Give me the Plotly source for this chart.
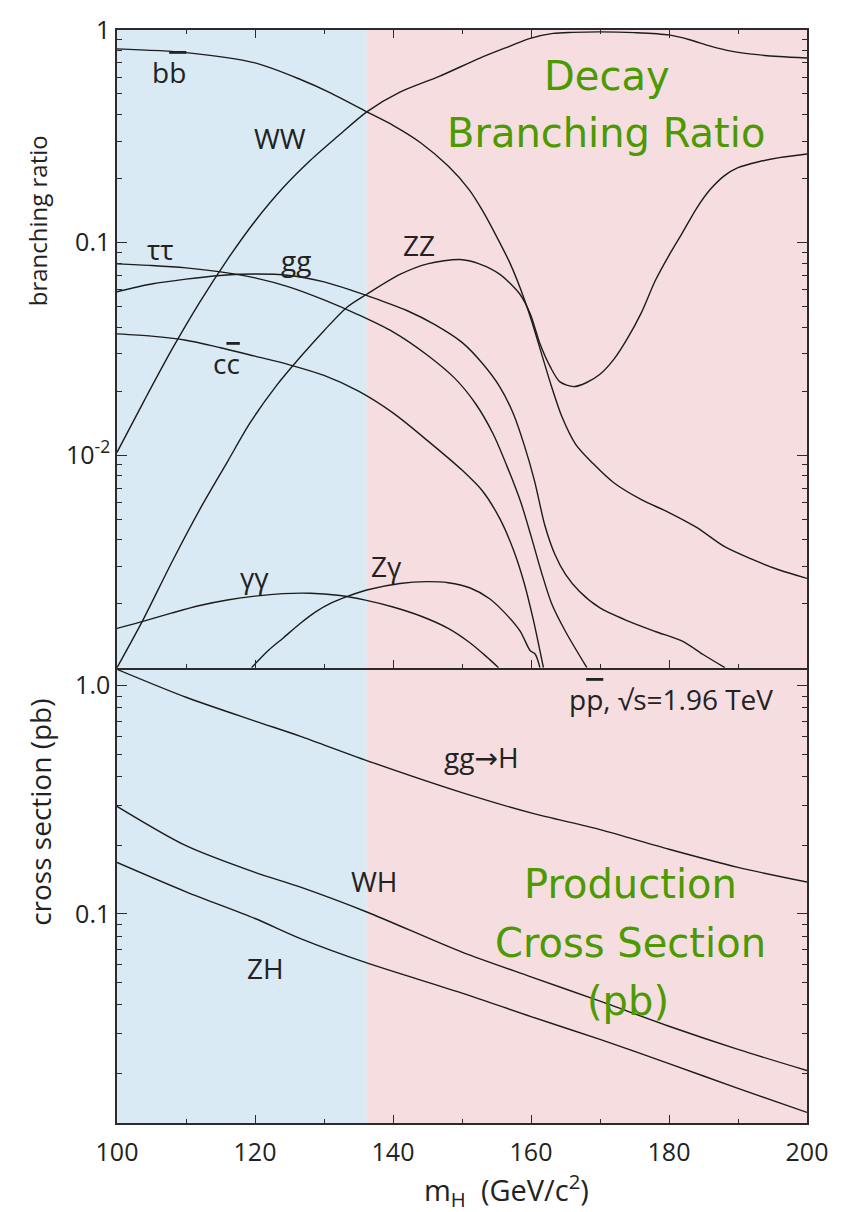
import plotly.graph_objects as go

# ---------------- data: Higgs decay branching ratios ----------------
m_bb = [100, 110, 120, 126.6, 131, 136.2, 140, 144, 148, 151, 153, 155, 157, 158.5, 160, 161.5, 163, 164.5, 166.5, 169, 172, 176, 180, 184, 188, 192, 196, 200]
br_bb = [0.815, 0.783, 0.70, 0.585, 0.505, 0.412, 0.356, 0.295, 0.229, 0.178, 0.141, 0.107, 0.0794, 0.0603, 0.0437, 0.0302, 0.0209, 0.0151, 0.0112, 0.00912, 0.00741, 0.00617, 0.00537, 0.00457, 0.00372, 0.00324, 0.00288, 0.00263]

m_ww = [100, 104, 108, 112, 116, 120, 124, 128, 132, 136.2, 141, 146.7, 152.6, 156.8, 159.9, 163.2, 166, 170, 175, 180, 183, 186, 189, 192, 196, 200]
br_ww = [0.0103, 0.0182, 0.0316, 0.0525, 0.0832, 0.126, 0.180, 0.243, 0.316, 0.412, 0.51, 0.605, 0.738, 0.836, 0.914, 0.964, 0.975, 0.98, 0.972, 0.948, 0.90, 0.84, 0.795, 0.77, 0.75, 0.738]

m_zz = [100, 103.7, 108, 112.3, 116, 119.3, 123, 126.6, 130, 133.3, 136.2, 141, 145, 149.7, 152.5, 155.5, 158.4, 159.9, 161.3, 162.8, 164.2, 166.2, 168, 170, 172, 174, 176, 178, 180, 182, 184, 186, 188, 190, 193, 196, 200]
br_zz = [0.001, 0.00166, 0.00316, 0.00578, 0.0093, 0.0142, 0.021, 0.029, 0.0385, 0.0495, 0.0571, 0.0708, 0.0794, 0.0832, 0.0794, 0.0708, 0.0571, 0.0461, 0.0334, 0.026, 0.0221, 0.021, 0.0219, 0.024, 0.0282, 0.0355, 0.0468, 0.0661, 0.0871, 0.112, 0.145, 0.178, 0.206, 0.225, 0.240, 0.251, 0.261]

m_gg = [100, 105, 110, 115, 120, 125, 130, 134, 138, 142, 146, 150, 153, 155.5, 157.5, 159, 160.5, 162, 163.5, 165, 167, 170, 174, 178, 182, 185, 188.1]
br_gg = [0.0587, 0.0638, 0.0673, 0.070, 0.0711, 0.070, 0.0653, 0.0596, 0.0537, 0.0479, 0.0412, 0.0339, 0.0269, 0.0209, 0.0155, 0.0112, 0.00759, 0.00468, 0.00339, 0.00275, 0.00229, 0.00191, 0.00166, 0.00148, 0.00133, 0.00115, 0.0010]

m_tau = [100, 105, 110, 115, 120, 125, 130, 135, 140, 145, 149, 152, 154.5, 156.5, 158.5, 160, 161.5, 163, 165, 168.1]
br_tau = [0.0794, 0.078, 0.076, 0.0728, 0.0682, 0.0617, 0.0537, 0.0457, 0.038, 0.0295, 0.0229, 0.0174, 0.0126, 0.0089, 0.00603, 0.00417, 0.00282, 0.002, 0.00148, 0.0010]

m_cc = [100, 105, 110, 115, 120, 125, 130, 135, 140, 145, 150, 153, 155.5, 157.5, 159, 160.3, 161.3, 161.8]
br_cc = [0.0372, 0.0363, 0.0347, 0.032, 0.0292, 0.0266, 0.0237, 0.020, 0.0158, 0.0117, 0.0085, 0.00676, 0.00501, 0.00355, 0.00251, 0.0017, 0.0012, 0.0010]

m_aa = [100, 104, 108, 112, 116, 120, 124, 128, 132, 136, 140, 144, 148, 151, 153.5, 155.3]
br_aa = [0.00153, 0.00166, 0.00181, 0.00196, 0.00208, 0.00217, 0.00223, 0.00224, 0.00219, 0.00208, 0.00193, 0.00175, 0.00153, 0.00132, 0.00113, 0.0010]

m_za = [119.5, 122, 124.1, 126.5, 128.9, 131, 133.3, 136.2, 141, 144.9, 148, 151.2, 154, 156, 158.4, 159.9, 160.6, 161.3]
br_za = [0.0010, 0.00121, 0.00138, 0.00161, 0.00184, 0.00201, 0.00216, 0.00232, 0.00249, 0.00254, 0.00251, 0.00237, 0.00211, 0.00184, 0.00149, 0.0012, 0.00116, 0.0010]

# ---------------- data: Tevatron production cross sections (pb) ----------------
m_prod = [100, 110, 120, 126.6, 136.2, 150, 160, 170, 180, 190, 200]
xs_ggh = [1.18, 0.89, 0.70, 0.60, 0.47, 0.34, 0.277, 0.234, 0.192, 0.16, 0.138]
xs_wh = [0.296, 0.199, 0.152, 0.131, 0.102, 0.068, 0.053, 0.0415, 0.0322, 0.0255, 0.0206]
xs_zh = [0.168, 0.125, 0.0955, 0.078, 0.061, 0.0450, 0.0355, 0.0282, 0.0221, 0.0172, 0.0135]

LOW_MASS_EDGE = 136.2  # boundary between shaded regions (GeV/c^2)
X_MIN, X_MAX = 100, 200

# ---------------- figure ----------------
W, H = 846, 1212
ML, MR, MT, MB = 117, 39, 20, 89
PW, PH = W - ML - MR, H - MT - MB
SPLIT = (1123 - 663.5) / PH  # paper fraction of lower panel

LINE = "#1c1c1c"
AX = "#2b2b2b"
FONT = "Open Sans"

def px(x):
    return (x - ML) / PW

def py(y):
    return (H - MB - y) / PH

fig = go.Figure()

def curve(m, v, xa, ya):
    fig.add_trace(go.Scatter(x=m, y=v, mode="lines", xaxis=xa, yaxis=ya,
                             line=dict(color=LINE, width=1.4, shape="spline", smoothing=0.8),
                             hoverinfo="skip", showlegend=False))

for m, v in [(m_bb, br_bb), (m_ww, br_ww), (m_zz, br_zz), (m_gg, br_gg), (m_tau, br_tau),
             (m_cc, br_cc), (m_aa, br_aa), (m_za, br_za)]:
    curve(m, v, "x2", "y2")
for v in [xs_ggh, xs_wh, xs_zh]:
    curve(m_prod, v, "x", "y")

# shaded mass regions
fig.add_shape(type="rect", xref="x", yref="paper", x0=X_MIN, x1=LOW_MASS_EDGE, y0=0, y1=1,
              fillcolor="#d9eaf4", line=dict(width=0), layer="below")
fig.add_shape(type="rect", xref="x", yref="paper", x0=LOW_MASS_EDGE, x1=X_MAX, y0=0, y1=1,
              fillcolor="#f5dde0", line=dict(width=0), layer="below")

tickfont = dict(family=FONT, size=25, color="#222")
common = dict(showline=True, linecolor=AX, linewidth=1.5, ticks="inside",
              tickcolor=AX, tickwidth=1.3, showgrid=False, zeroline=False)

top_minor = [k * 10 ** e for e in (-3, -2, -1) for k in range(2, 10)]
bot_minor = [k * 10 ** e for e in (-2, -1) for k in range(2, 10)]

fig.update_layout(
    width=W, height=H, margin=dict(l=ML, r=MR, t=MT, b=MB),
    paper_bgcolor="white", plot_bgcolor="rgba(0,0,0,0)",
    font=dict(family=FONT, color="#222"),
    xaxis=dict(domain=[0, 1], anchor="y", range=[X_MIN, X_MAX], tickvals=[100, 120, 140, 160, 180, 200],
               ticklen=8, tickfont=tickfont, ticklabelstandoff=6, mirror=False,
               minor=dict(tickvals=[110, 130, 150, 170, 190], ticks="inside", ticklen=4, tickcolor=AX),
               **common),
    yaxis=dict(domain=[0, SPLIT], anchor="x", type="log", range=[-1.916, 0.079], mirror="ticks",
               tickvals=[0.1, 1.0], ticktext=["0.1", "1.0"], ticklen=10, tickfont=tickfont,
               minor=dict(tickvals=bot_minor, ticks="inside", ticklen=5, tickcolor=AX),
               **common),
    xaxis2=dict(domain=[0, 1], anchor="y2", range=[X_MIN, X_MAX], tickvals=[120, 140, 160, 180],
                showticklabels=False, ticklen=8, mirror="ticks",
                minor=dict(tickvals=[110, 130, 150, 170, 190], ticks="inside", ticklen=4, tickcolor=AX),
                **common),
    yaxis2=dict(domain=[SPLIT, 1], anchor="x2", type="log", range=[-3, 0], mirror="ticks",
                tickvals=[0.01, 0.1, 1], ticktext=["10<sup>-2</sup>", "0.1", "1"], ticklen=10,
                tickfont=tickfont,
                minor=dict(tickvals=top_minor, ticks="inside", ticklen=5, tickcolor=AX),
                **common),
)

ann = []
def label(text, x, y, size=28, color="#222", **kw):
    ann.append(dict(text=text, x=px(x), y=py(y), xref="paper", yref="paper", showarrow=False,
                    xanchor="center", yanchor="middle",
                    font=dict(family=FONT, size=size, color=color), **kw))

OV = "<span style='text-decoration:overline'>%s</span>"
ARROW = "<span style='font-family:DejaVu Sans'>\u2192</span>"
# curve labels
label("b" + OV % "b", 169, 62)
label("WW", 280, 129)
label("\u03c4\u03c4", 160, 241)
label("gg", 296, 252)
label("ZZ", 419, 237)
label("c" + OV % "c", 226, 356)
label("\u03b3\u03b3", 254, 572)
label("Z\u03b3", 386, 561)
label("gg" + ARROW + "H", 481, 754)
label("WH", 374, 879)
label("ZH", 265, 967)
label("p" + OV % "p" + ", \u221as=1.96 TeV", 671, 695, size=28)

# axis titles
label("branching ratio", 37, 213, size=24, textangle=-90)
label("cross section (pb)", 40, 810, size=28, textangle=-90)
label("m<sub>H</sub>  (GeV/c<sup>2</sup>)", 507, 1191, size=29)

# panel headings
GREEN = "#4c9a00"
GF = "DejaVu Sans"
for txt, x, y in [("Decay", 607, 66), ("Branching Ratio", 606, 124),
                  ("Production", 630, 882), ("Cross Section", 630, 941), ("(pb)", 628, 1000)]:
    ann.append(dict(text=txt, x=px(x), y=py(y), xref="paper", yref="paper", showarrow=False,
                    xanchor="center", yanchor="middle",
                    font=dict(family=GF, size=40, color=GREEN)))

fig.update_layout(annotations=ann)
fig.write_html("out.html")
